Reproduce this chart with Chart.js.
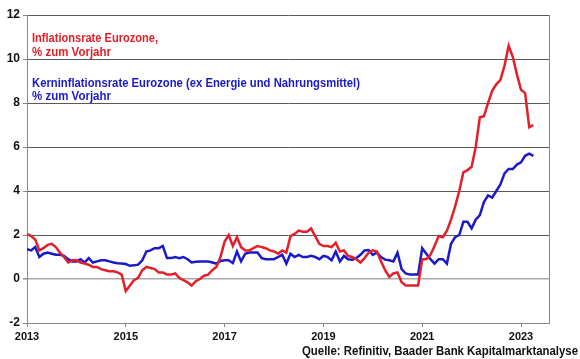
<!DOCTYPE html>
<html>
<head>
<meta charset="utf-8">
<script src="https://cdn.jsdelivr.net/npm/chart.js@4.4.1/dist/chart.umd.min.js"></script>
<style>
  html, body { margin: 0; padding: 0; background: #fff; }
  #wrap { width: 580px; height: 359px; }
</style>
</head>
<body>
<div id="wrap"><canvas id="inflChart" width="580" height="359"></canvas></div>
<script>
// Eurozone inflation, monthly Jan 2013 .. Apr 2023 (% yoy)
const startYear = 2013;
const years = ['2013', '2014', '2015', '2016', '2017', '2018', '2019', '2020', '2021', '2022', '2023'];
const yearLabels = ['2013', '2015', '2017', '2019', '2021', '2023'];
const yTicks = [-2, 0, 2, 4, 6, 8, 10, 12];

const headline = [
    2.05, 1.95, 1.8, 1.3, 1.4, 1.55, 1.6, 1.45, 1.2, 1.0, 0.75, 0.85,
    0.85, 0.75, 0.7, 0.65, 0.55, 0.55, 0.45, 0.4, 0.35, 0.35, 0.3, 0.2,
    -0.55, -0.3, -0.05, 0.05, 0.4, 0.55, 0.5, 0.45, 0.3, 0.3, 0.2, 0.2,
    0.25, 0.05, -0.05, -0.15, -0.3, -0.1, 0.0, 0.15, 0.2, 0.4, 0.55, 1.0,
    1.7, 2.0, 1.5, 1.9, 1.45, 1.3, 1.3, 1.4, 1.5, 1.45, 1.4, 1.3,
    1.25, 1.15, 1.3, 1.2, 1.95, 2.05, 2.2, 2.15, 2.15, 2.3, 1.95, 1.6,
    1.5, 1.5, 1.45, 1.65, 1.25, 1.3, 1.05, 1.0, 0.9, 0.75, 0.95, 1.2,
    1.3, 1.25, 0.8, 0.4, 0.1, 0.25, 0.3, -0.15, -0.3, -0.3, -0.3, -0.3,
    0.9, 0.9, 1.1, 1.5, 1.95, 1.9, 2.2, 2.7, 3.3, 4.0, 4.85, 4.95,
    5.1, 6.0, 7.35, 7.4, 8.0, 8.55, 8.85, 9.05, 9.7, 10.6, 10.1, 9.3,
    8.6, 8.45, 6.9, 7.0
];

const core = [
    1.35, 1.3, 1.45, 1.0, 1.15, 1.2, 1.15, 1.1, 1.1, 1.05, 0.9, 0.8,
    0.8, 0.9, 0.75, 0.95, 0.75, 0.8, 0.85, 0.85, 0.8, 0.75, 0.72, 0.7,
    0.68, 0.6, 0.62, 0.65, 0.85, 1.25, 1.3, 1.4, 1.4, 1.5, 0.95, 0.95,
    1.0, 0.95, 1.0, 0.9, 0.75, 0.78, 0.8, 0.8, 0.8, 0.75, 0.7, 0.82,
    0.85, 0.85, 0.72, 1.25, 0.8, 1.15, 1.2, 1.2, 1.2, 0.95, 0.9, 0.9,
    0.9, 1.0, 1.1, 0.7, 1.15, 1.0, 1.1, 1.0, 1.0, 1.05, 1.0, 0.9,
    1.05, 1.0, 0.85, 1.25, 0.8, 1.05, 0.9, 0.88, 0.95, 1.1, 1.3, 1.32,
    1.1, 1.2, 1.0, 0.88, 0.85, 0.8, 1.2, 0.45, 0.25, 0.2, 0.2, 0.2,
    1.4, 1.15, 0.9, 0.7, 0.9, 0.9, 0.7, 1.6, 1.9, 2.0, 2.6, 2.6,
    2.3, 2.7, 2.9, 3.5, 3.8, 3.7, 4.0, 4.3, 4.8, 5.0, 5.0, 5.2,
    5.3, 5.6, 5.7, 5.6
];

// month index on the x axis (0 = Jan 2013)
const monthLabels = [];
years.forEach(y => { for (let m = 1; m <= 12; m++) monthLabels.push(y + '-' + String(m).padStart(2, '0')); });
const toPoints = arr => arr.map((v, i) => ({ x: i, y: v }));

const RED = '#e3202a';
const BLUE = '#1a1ac8';
const FONT = "'Liberation Sans', Arial, sans-serif";

const textPlugin = {
    id: 'texts',
    afterDraw(chart) {
        const ctx = chart.ctx;
        ctx.save();
        ctx.textBaseline = 'alphabetic';
        ctx.textAlign = 'left';
        ctx.font = 'bold 13px ' + FONT;
        ctx.fillStyle = RED;
        ctx.fillText('Inflationsrate Eurozone,', 32, 42, 126);
        ctx.fillText('% zum Vorjahr', 32, 56, 79);
        ctx.fillStyle = BLUE;
        ctx.fillText('Kerninflationsrate Eurozone (ex Energie und Nahrungsmittel)', 32, 87, 328);
        ctx.fillText('% zum Vorjahr', 32, 100, 79);
        ctx.font = 'bold 12px ' + FONT;
        ctx.fillStyle = '#111';
        ctx.textAlign = 'right';
        ctx.fillText('Quelle: Refinitiv, Baader Bank Kapitalmarktanalyse', 578, 355, 276);
        ctx.restore();
    }
};

new Chart(document.getElementById('inflChart'), {
    type: 'line',
    data: {
        labels: monthLabels,
        datasets: [
            { label: 'Inflationsrate', data: toPoints(headline), borderColor: RED, borderWidth: 2.5 },
            { label: 'Kerninflationsrate', data: toPoints(core), borderColor: BLUE, borderWidth: 2.5 }
        ]
    },
    options: {
        responsive: false,
        animation: false,
        layout: { padding: { top: 15, right: 31, left: 0, bottom: 0 } },
        elements: { point: { radius: 0 }, line: { tension: 0 } },
        plugins: { legend: { display: false }, tooltip: { enabled: false } },
        scales: {
            x: {
                type: 'linear',
                min: 0,
                max: 126.8,
                afterBuildTicks: s => { s.ticks = yearLabels.map(y => ({ value: (Number(y) - startYear) * 12 })); },
                afterFit: s => { s.height = 36; },
                ticks: {
                    callback: (v, i) => yearLabels[i],
                    font: { family: FONT, size: 11, weight: 'bold' },
                    color: '#111',
                    maxRotation: 0,
                    padding: 3
                },
                grid: { drawOnChartArea: false, tickLength: 4, color: '#888' },
                border: { color: '#888' }
            },
            y: {
                min: -2,
                max: 12,
                afterBuildTicks: s => { s.ticks = yTicks.map(v => ({ value: v })); },
                afterFit: s => { s.width = 27; },
                ticks: {
                    font: { family: FONT, size: 12, weight: 'bold' },
                    color: '#111',
                    padding: 3
                },
                grid: {
                    tickLength: 4,
                    tickColor: '#888',
                    color: c => (c.tick.value === 0 ? '#aaa' : c.tick.value === -2 ? '#888' : '#5a5a5a'),
                    lineWidth: c => (c.tick.value === 0 ? 1.5 : 1)
                },
                border: { color: '#888' }
            },
            yRight: {
                position: 'right',
                min: -2,
                max: 12,
                afterFit: s => { s.width = 0; },
                ticks: { display: false },
                grid: { drawOnChartArea: false, drawTicks: false },
                border: { color: '#888' }
            }
        }
    },
    plugins: [textPlugin]
});
</script>
</body>
</html>
